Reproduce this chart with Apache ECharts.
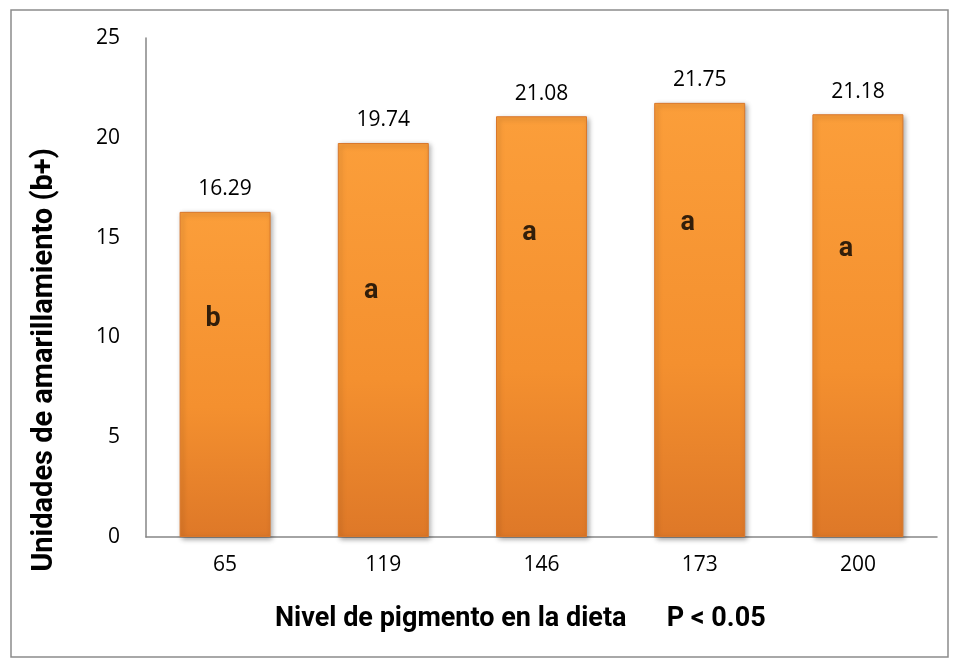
<!DOCTYPE html>
<html>
<head>
<meta charset="utf-8">
<script src="https://cdn.jsdelivr.net/npm/echarts@6/dist/echarts.min.js"></script>
<style>
html, body { margin: 0; padding: 0; background: #fff; }
#main { width: 958px; height: 662px; }
</style>
</head>
<body>
<div id="main"></div>
<script>
// datos de la grafica
var niveles = ['65', '119', '146', '173', '200'];
var valores = [16.29, 19.74, 21.08, 21.75, 21.18];
var letras = ['b', 'a', 'a', 'a', 'a'];
var letrasY = [10.9, 12.3, 15.2, 15.7, 14.4]; // altura aproximada de las letras dentro de la barra
var yTicks = [0, 25, 5];

var chart = echarts.init(document.getElementById('main'));

var barColor = new echarts.graphic.LinearGradient(0, 0, 0, 1, [
    {offset: 0, color: '#FB9E3A'},
    {offset: 0.6, color: '#F4902F'},
    {offset: 1, color: '#DE7828'}
]);

var option = {
    animation: false,
    backgroundColor: '#fff',
    title: {
        text: 'Nivel de pigmento en la dieta      P < 0.05',
        left: 270, top: 601,
        textStyle: {fontFamily: 'Roboto', fontWeight: 'bold', fontSize: 27, color: '#000'}
    },
    graphic: [{
        type: 'rect',
        shape: {x: 11, y: 10, width: 937, height: 647},
        style: {fill: 'none', stroke: '#8c8c8c', lineWidth: 1.5},
        silent: true
    }, {
        type: 'text',
        x: 45, y: 360,
        rotation: Math.PI / 2,
        style: {
            text: 'Unidades de amarillamiento (b+)',
            fontFamily: 'Roboto', fontWeight: 'bold', fontSize: 29, fill: '#000',
            align: 'center', verticalAlign: 'middle'
        },
        silent: true
    }],
    grid: {left: 146, right: 21, top: 38, bottom: 125},
    xAxis: {
        type: 'category',
        data: niveles,
        axisLine: {lineStyle: {color: '#868686', width: 1.5}},
        axisTick: {show: false},
        axisLabel: {margin: 18, fontSize: 21, color: '#000', fontFamily: 'Open Sans'}
    },
    yAxis: {
        type: 'value',
        min: yTicks[0], max: yTicks[1], interval: yTicks[2],
        axisLine: {show: true, lineStyle: {color: '#868686', width: 1.5}},
        axisTick: {show: false},
        splitLine: {show: false},
        axisLabel: {margin: 26, fontSize: 21, color: '#000', fontFamily: 'Open Sans'}
    },
    series: [{
        type: 'bar',
        data: valores,
        barWidth: 91,
        itemStyle: {
            color: barColor,
            borderColor: '#D9782C',
            borderWidth: 1,
            shadowBlur: 5,
            shadowOffsetX: 2,
            shadowOffsetY: 2,
            shadowColor: 'rgba(0,0,0,0.35)'
        },
        label: {
            show: true, position: 'top', distance: 12,
            fontSize: 21, color: '#000', fontFamily: 'Open Sans',
            formatter: function (p) { return p.value.toFixed(2); }
        }
    }, {
        type: 'scatter',
        data: letrasY,
        symbolSize: 0,
        z: 5,
        label: {
            show: true, position: 'inside', offset: [-12, 0],
            fontSize: 27, fontWeight: 'bold', color: '#000', fontFamily: 'Roboto',
            formatter: function (p) { return letras[p.dataIndex]; }
        }
    }]
};

chart.setOption(option);
</script>
</body>
</html>
